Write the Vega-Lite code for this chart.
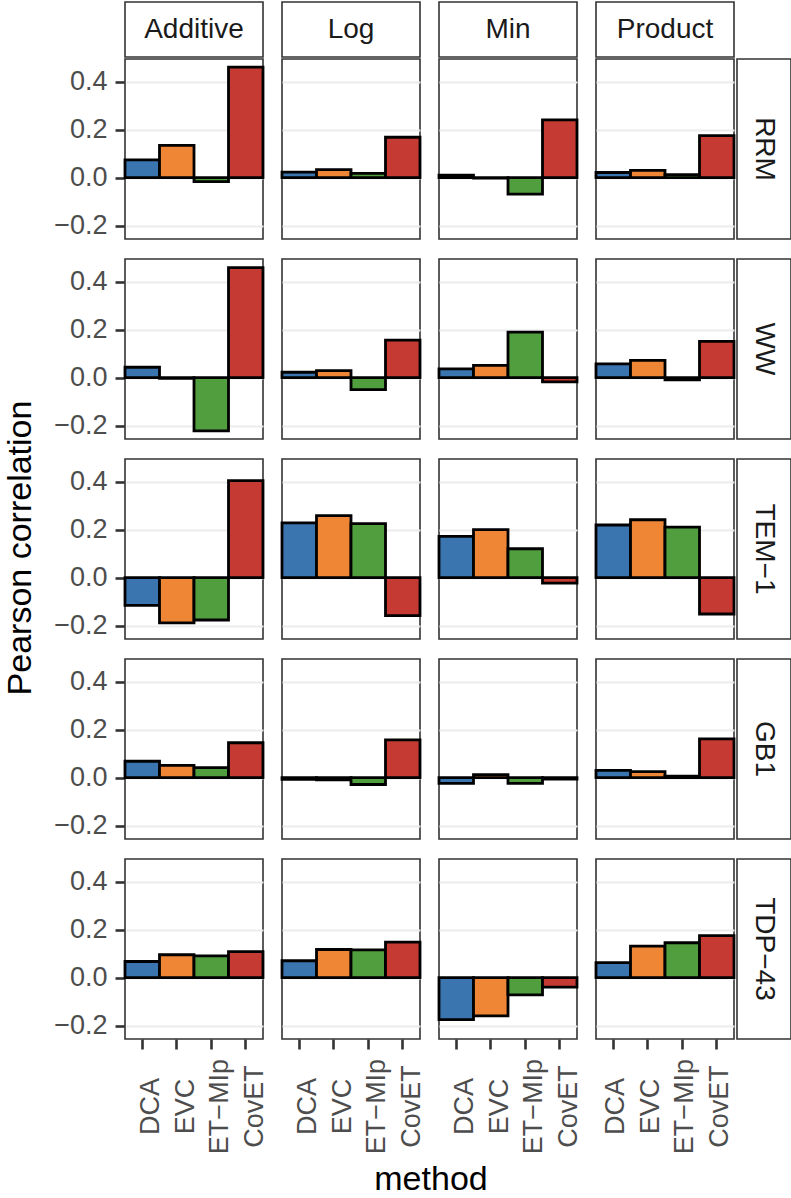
{
 "$schema": "https://vega.github.io/schema/vega-lite/v6.json",
 "background": "white",
 "padding": {"left": 4, "top": 1, "right": 0, "bottom": 0},
 "datasets": {"d": [
  {"protein":"RRM","scoring":"Additive","method":"DCA","value":0.074},
  {"protein":"RRM","scoring":"Additive","method":"EVC","value":0.134},
  {"protein":"RRM","scoring":"Additive","method":"ET−MIp","value":-0.017},
  {"protein":"RRM","scoring":"Additive","method":"CovET","value":0.46},
  {"protein":"RRM","scoring":"Log","method":"DCA","value":0.023},
  {"protein":"RRM","scoring":"Log","method":"EVC","value":0.033},
  {"protein":"RRM","scoring":"Log","method":"ET−MIp","value":0.017},
  {"protein":"RRM","scoring":"Log","method":"CovET","value":0.168},
  {"protein":"RRM","scoring":"Min","method":"DCA","value":0.01},
  {"protein":"RRM","scoring":"Min","method":"EVC","value":-0.002},
  {"protein":"RRM","scoring":"Min","method":"ET−MIp","value":-0.069},
  {"protein":"RRM","scoring":"Min","method":"CovET","value":0.24},
  {"protein":"RRM","scoring":"Product","method":"DCA","value":0.021},
  {"protein":"RRM","scoring":"Product","method":"EVC","value":0.03},
  {"protein":"RRM","scoring":"Product","method":"ET−MIp","value":0.012},
  {"protein":"RRM","scoring":"Product","method":"CovET","value":0.175},
  {"protein":"WW","scoring":"Additive","method":"DCA","value":0.043},
  {"protein":"WW","scoring":"Additive","method":"EVC","value":-0.003},
  {"protein":"WW","scoring":"Additive","method":"ET−MIp","value":-0.222},
  {"protein":"WW","scoring":"Additive","method":"CovET","value":0.458},
  {"protein":"WW","scoring":"Log","method":"DCA","value":0.022},
  {"protein":"WW","scoring":"Log","method":"EVC","value":0.029},
  {"protein":"WW","scoring":"Log","method":"ET−MIp","value":-0.05},
  {"protein":"WW","scoring":"Log","method":"CovET","value":0.156},
  {"protein":"WW","scoring":"Min","method":"DCA","value":0.036},
  {"protein":"WW","scoring":"Min","method":"EVC","value":0.051},
  {"protein":"WW","scoring":"Min","method":"ET−MIp","value":0.189},
  {"protein":"WW","scoring":"Min","method":"CovET","value":-0.018},
  {"protein":"WW","scoring":"Product","method":"DCA","value":0.057},
  {"protein":"WW","scoring":"Product","method":"EVC","value":0.072},
  {"protein":"WW","scoring":"Product","method":"ET−MIp","value":-0.01},
  {"protein":"WW","scoring":"Product","method":"CovET","value":0.151},
  {"protein":"TEM−1","scoring":"Additive","method":"DCA","value":-0.116},
  {"protein":"TEM−1","scoring":"Additive","method":"EVC","value":-0.189},
  {"protein":"TEM−1","scoring":"Additive","method":"ET−MIp","value":-0.177},
  {"protein":"TEM−1","scoring":"Additive","method":"CovET","value":0.404},
  {"protein":"TEM−1","scoring":"Log","method":"DCA","value":0.228},
  {"protein":"TEM−1","scoring":"Log","method":"EVC","value":0.258},
  {"protein":"TEM−1","scoring":"Log","method":"ET−MIp","value":0.225},
  {"protein":"TEM−1","scoring":"Log","method":"CovET","value":-0.159},
  {"protein":"TEM−1","scoring":"Min","method":"DCA","value":0.172},
  {"protein":"TEM−1","scoring":"Min","method":"EVC","value":0.2},
  {"protein":"TEM−1","scoring":"Min","method":"ET−MIp","value":0.12},
  {"protein":"TEM−1","scoring":"Min","method":"CovET","value":-0.023},
  {"protein":"TEM−1","scoring":"Product","method":"DCA","value":0.219},
  {"protein":"TEM−1","scoring":"Product","method":"EVC","value":0.241},
  {"protein":"TEM−1","scoring":"Product","method":"ET−MIp","value":0.21},
  {"protein":"TEM−1","scoring":"Product","method":"CovET","value":-0.152},
  {"protein":"GB1","scoring":"Additive","method":"DCA","value":0.068},
  {"protein":"GB1","scoring":"Additive","method":"EVC","value":0.051},
  {"protein":"GB1","scoring":"Additive","method":"ET−MIp","value":0.041},
  {"protein":"GB1","scoring":"Additive","method":"CovET","value":0.145},
  {"protein":"GB1","scoring":"Log","method":"DCA","value":-0.008},
  {"protein":"GB1","scoring":"Log","method":"EVC","value":-0.01},
  {"protein":"GB1","scoring":"Log","method":"ET−MIp","value":-0.029},
  {"protein":"GB1","scoring":"Log","method":"CovET","value":0.157},
  {"protein":"GB1","scoring":"Min","method":"DCA","value":-0.024},
  {"protein":"GB1","scoring":"Min","method":"EVC","value":0.012},
  {"protein":"GB1","scoring":"Min","method":"ET−MIp","value":-0.024},
  {"protein":"GB1","scoring":"Min","method":"CovET","value":-0.006},
  {"protein":"GB1","scoring":"Product","method":"DCA","value":0.03},
  {"protein":"GB1","scoring":"Product","method":"EVC","value":0.025},
  {"protein":"GB1","scoring":"Product","method":"ET−MIp","value":0.006},
  {"protein":"GB1","scoring":"Product","method":"CovET","value":0.161},
  {"protein":"TDP−43","scoring":"Additive","method":"DCA","value":0.067},
  {"protein":"TDP−43","scoring":"Additive","method":"EVC","value":0.095},
  {"protein":"TDP−43","scoring":"Additive","method":"ET−MIp","value":0.09},
  {"protein":"TDP−43","scoring":"Additive","method":"CovET","value":0.108},
  {"protein":"TDP−43","scoring":"Log","method":"DCA","value":0.07},
  {"protein":"TDP−43","scoring":"Log","method":"EVC","value":0.117},
  {"protein":"TDP−43","scoring":"Log","method":"ET−MIp","value":0.115},
  {"protein":"TDP−43","scoring":"Log","method":"CovET","value":0.148},
  {"protein":"TDP−43","scoring":"Min","method":"DCA","value":-0.175},
  {"protein":"TDP−43","scoring":"Min","method":"EVC","value":-0.16},
  {"protein":"TDP−43","scoring":"Min","method":"ET−MIp","value":-0.072},
  {"protein":"TDP−43","scoring":"Min","method":"CovET","value":-0.04},
  {"protein":"TDP−43","scoring":"Product","method":"DCA","value":0.062},
  {"protein":"TDP−43","scoring":"Product","method":"EVC","value":0.131},
  {"protein":"TDP−43","scoring":"Product","method":"ET−MIp","value":0.145},
  {"protein":"TDP−43","scoring":"Product","method":"CovET","value":0.175}
 ]},
 "config": {
  "font": "Liberation Sans",
  "view": {"stroke": "#333333", "strokeWidth": 1.6},
  "bar": {"stroke": "black", "strokeWidth": 2.8},
  "axis": {"domain": false, "tickColor": "#333333", "tickWidth": 2.6, "labelColor": "#4D4D4D", "labelFont": "Liberation Sans"},
  "axisX": {"grid": false, "labels": false, "tickOpacity": 0, "tickSize": 18, "minExtent": 0},
  "axisY": {"grid": true, "gridColor": "#EBEBEB", "gridWidth": 2.2, "labels": false, "tickOpacity": 0, "tickSize": 22, "minExtent": 22}
 },
 "spacing": 14,
 "hconcat": [
  {"width": 34, "height": 1092, "data": {"values": [{"t": "Pearson correlation"}]}, "mark": {"type": "text", "angle": 270, "fontSize": 34, "color": "black"}, "encoding": {"text": {"field": "t"}}, "view": {"stroke": null}},
  {"spacing": 5, "vconcat": [
   {"columns": 5, "align": "each", "spacing": {"row": 0, "column": -10}, "concat": [
    {"width":138,"height":55,"data":{"values":[{"t":"Additive"}]},"view":{"stroke":null},"layer":[{"mark":{"type":"rect","fill":"white","stroke":"#333333","strokeWidth":1.6}},{"mark":{"type":"text","fontSize":28,"color":"#1A1A1A"},"encoding":{"text":{"field":"t"}}}]},
    {"width":138,"height":55,"data":{"values":[{"t":"Log"}]},"view":{"stroke":null},"layer":[{"mark":{"type":"rect","fill":"white","stroke":"#333333","strokeWidth":1.6}},{"mark":{"type":"text","fontSize":28,"color":"#1A1A1A"},"encoding":{"text":{"field":"t"}}}]},
    {"width":138,"height":55,"data":{"values":[{"t":"Min"}]},"view":{"stroke":null},"layer":[{"mark":{"type":"rect","fill":"white","stroke":"#333333","strokeWidth":1.6}},{"mark":{"type":"text","fontSize":28,"color":"#1A1A1A"},"encoding":{"text":{"field":"t"}}}]},
    {"width":138,"height":55,"data":{"values":[{"t":"Product"}]},"view":{"stroke":null},"layer":[{"mark":{"type":"rect","fill":"white","stroke":"#333333","strokeWidth":1.6}},{"mark":{"type":"text","fontSize":28,"color":"#1A1A1A"},"encoding":{"text":{"field":"t"}}}]},
    {"width":54,"height":55,"data":{"values":[{"t":""}]},"mark":{"type":"text"},"encoding":{"text":{"field":"t"}},"view":{"stroke":null}},

    {"width":138,"height":180,"data":{"name":"d"},"transform":[{"filter":"datum.protein==='RRM'&&datum.scoring==='Additive'"}],"mark":"bar","encoding":{"x":{"field":"method","type":"nominal","scale":{"domain":["DCA","EVC","ET−MIp","CovET"],"paddingInner":0,"paddingOuter":0},"axis":{"title":null}},"y":{"field":"value","type":"quantitative","scale":{"domain":[-0.2561,0.4941],"nice":false},"axis":{"title":null,"values":[-0.2,0,0.2,0.4],"labels":true,"tickOpacity":1,"tickSize":10,"format":".1f","labelFontSize":27,"labelPadding":8}},"color":{"field":"method","type":"nominal","scale":{"domain":["DCA","EVC","ET−MIp","CovET"],"range":["#3B75AF","#EF8636","#519E3E","#C53A32"]},"legend":null}}},
    {"width":138,"height":180,"data":{"name":"d"},"transform":[{"filter":"datum.protein==='RRM'&&datum.scoring==='Log'"}],"mark":"bar","encoding":{"x":{"field":"method","type":"nominal","scale":{"domain":["DCA","EVC","ET−MIp","CovET"],"paddingInner":0,"paddingOuter":0},"axis":{"title":null}},"y":{"field":"value","type":"quantitative","scale":{"domain":[-0.2561,0.4941],"nice":false},"axis":{"title":null,"values":[-0.2,0,0.2,0.4]}},"color":{"field":"method","type":"nominal","scale":{"domain":["DCA","EVC","ET−MIp","CovET"],"range":["#3B75AF","#EF8636","#519E3E","#C53A32"]},"legend":null}}},
    {"width":138,"height":180,"data":{"name":"d"},"transform":[{"filter":"datum.protein==='RRM'&&datum.scoring==='Min'"}],"mark":"bar","encoding":{"x":{"field":"method","type":"nominal","scale":{"domain":["DCA","EVC","ET−MIp","CovET"],"paddingInner":0,"paddingOuter":0},"axis":{"title":null}},"y":{"field":"value","type":"quantitative","scale":{"domain":[-0.2561,0.4941],"nice":false},"axis":{"title":null,"values":[-0.2,0,0.2,0.4]}},"color":{"field":"method","type":"nominal","scale":{"domain":["DCA","EVC","ET−MIp","CovET"],"range":["#3B75AF","#EF8636","#519E3E","#C53A32"]},"legend":null}}},
    {"width":138,"height":180,"data":{"name":"d"},"transform":[{"filter":"datum.protein==='RRM'&&datum.scoring==='Product'"}],"mark":"bar","encoding":{"x":{"field":"method","type":"nominal","scale":{"domain":["DCA","EVC","ET−MIp","CovET"],"paddingInner":0,"paddingOuter":0},"axis":{"title":null}},"y":{"field":"value","type":"quantitative","scale":{"domain":[-0.2561,0.4941],"nice":false},"axis":{"title":null,"values":[-0.2,0,0.2,0.4]}},"color":{"field":"method","type":"nominal","scale":{"domain":["DCA","EVC","ET−MIp","CovET"],"range":["#3B75AF","#EF8636","#519E3E","#C53A32"]},"legend":null}}},
    {"width":54,"height":180,"data":{"values":[{"t":"RRM"}]},"view":{"stroke":null},"layer":[{"mark":{"type":"rect","fill":"white","stroke":"#333333","strokeWidth":1.6}},{"mark":{"type":"text","fontSize":28,"color":"#1A1A1A","angle":90},"encoding":{"text":{"field":"t"}}}]},

    {"width":138,"height":180,"data":{"name":"d"},"transform":[{"filter":"datum.protein==='WW'&&datum.scoring==='Additive'"}],"mark":"bar","encoding":{"x":{"field":"method","type":"nominal","scale":{"domain":["DCA","EVC","ET−MIp","CovET"],"paddingInner":0,"paddingOuter":0},"axis":{"title":null}},"y":{"field":"value","type":"quantitative","scale":{"domain":[-0.2561,0.4941],"nice":false},"axis":{"title":null,"values":[-0.2,0,0.2,0.4],"labels":true,"tickOpacity":1,"tickSize":10,"format":".1f","labelFontSize":27,"labelPadding":8}},"color":{"field":"method","type":"nominal","scale":{"domain":["DCA","EVC","ET−MIp","CovET"],"range":["#3B75AF","#EF8636","#519E3E","#C53A32"]},"legend":null}}},
    {"width":138,"height":180,"data":{"name":"d"},"transform":[{"filter":"datum.protein==='WW'&&datum.scoring==='Log'"}],"mark":"bar","encoding":{"x":{"field":"method","type":"nominal","scale":{"domain":["DCA","EVC","ET−MIp","CovET"],"paddingInner":0,"paddingOuter":0},"axis":{"title":null}},"y":{"field":"value","type":"quantitative","scale":{"domain":[-0.2561,0.4941],"nice":false},"axis":{"title":null,"values":[-0.2,0,0.2,0.4]}},"color":{"field":"method","type":"nominal","scale":{"domain":["DCA","EVC","ET−MIp","CovET"],"range":["#3B75AF","#EF8636","#519E3E","#C53A32"]},"legend":null}}},
    {"width":138,"height":180,"data":{"name":"d"},"transform":[{"filter":"datum.protein==='WW'&&datum.scoring==='Min'"}],"mark":"bar","encoding":{"x":{"field":"method","type":"nominal","scale":{"domain":["DCA","EVC","ET−MIp","CovET"],"paddingInner":0,"paddingOuter":0},"axis":{"title":null}},"y":{"field":"value","type":"quantitative","scale":{"domain":[-0.2561,0.4941],"nice":false},"axis":{"title":null,"values":[-0.2,0,0.2,0.4]}},"color":{"field":"method","type":"nominal","scale":{"domain":["DCA","EVC","ET−MIp","CovET"],"range":["#3B75AF","#EF8636","#519E3E","#C53A32"]},"legend":null}}},
    {"width":138,"height":180,"data":{"name":"d"},"transform":[{"filter":"datum.protein==='WW'&&datum.scoring==='Product'"}],"mark":"bar","encoding":{"x":{"field":"method","type":"nominal","scale":{"domain":["DCA","EVC","ET−MIp","CovET"],"paddingInner":0,"paddingOuter":0},"axis":{"title":null}},"y":{"field":"value","type":"quantitative","scale":{"domain":[-0.2561,0.4941],"nice":false},"axis":{"title":null,"values":[-0.2,0,0.2,0.4]}},"color":{"field":"method","type":"nominal","scale":{"domain":["DCA","EVC","ET−MIp","CovET"],"range":["#3B75AF","#EF8636","#519E3E","#C53A32"]},"legend":null}}},
    {"width":54,"height":180,"data":{"values":[{"t":"WW"}]},"view":{"stroke":null},"layer":[{"mark":{"type":"rect","fill":"white","stroke":"#333333","strokeWidth":1.6}},{"mark":{"type":"text","fontSize":28,"color":"#1A1A1A","angle":90},"encoding":{"text":{"field":"t"}}}]},

    {"width":138,"height":180,"data":{"name":"d"},"transform":[{"filter":"datum.protein==='TEM−1'&&datum.scoring==='Additive'"}],"mark":"bar","encoding":{"x":{"field":"method","type":"nominal","scale":{"domain":["DCA","EVC","ET−MIp","CovET"],"paddingInner":0,"paddingOuter":0},"axis":{"title":null}},"y":{"field":"value","type":"quantitative","scale":{"domain":[-0.2561,0.4941],"nice":false},"axis":{"title":null,"values":[-0.2,0,0.2,0.4],"labels":true,"tickOpacity":1,"tickSize":10,"format":".1f","labelFontSize":27,"labelPadding":8}},"color":{"field":"method","type":"nominal","scale":{"domain":["DCA","EVC","ET−MIp","CovET"],"range":["#3B75AF","#EF8636","#519E3E","#C53A32"]},"legend":null}}},
    {"width":138,"height":180,"data":{"name":"d"},"transform":[{"filter":"datum.protein==='TEM−1'&&datum.scoring==='Log'"}],"mark":"bar","encoding":{"x":{"field":"method","type":"nominal","scale":{"domain":["DCA","EVC","ET−MIp","CovET"],"paddingInner":0,"paddingOuter":0},"axis":{"title":null}},"y":{"field":"value","type":"quantitative","scale":{"domain":[-0.2561,0.4941],"nice":false},"axis":{"title":null,"values":[-0.2,0,0.2,0.4]}},"color":{"field":"method","type":"nominal","scale":{"domain":["DCA","EVC","ET−MIp","CovET"],"range":["#3B75AF","#EF8636","#519E3E","#C53A32"]},"legend":null}}},
    {"width":138,"height":180,"data":{"name":"d"},"transform":[{"filter":"datum.protein==='TEM−1'&&datum.scoring==='Min'"}],"mark":"bar","encoding":{"x":{"field":"method","type":"nominal","scale":{"domain":["DCA","EVC","ET−MIp","CovET"],"paddingInner":0,"paddingOuter":0},"axis":{"title":null}},"y":{"field":"value","type":"quantitative","scale":{"domain":[-0.2561,0.4941],"nice":false},"axis":{"title":null,"values":[-0.2,0,0.2,0.4]}},"color":{"field":"method","type":"nominal","scale":{"domain":["DCA","EVC","ET−MIp","CovET"],"range":["#3B75AF","#EF8636","#519E3E","#C53A32"]},"legend":null}}},
    {"width":138,"height":180,"data":{"name":"d"},"transform":[{"filter":"datum.protein==='TEM−1'&&datum.scoring==='Product'"}],"mark":"bar","encoding":{"x":{"field":"method","type":"nominal","scale":{"domain":["DCA","EVC","ET−MIp","CovET"],"paddingInner":0,"paddingOuter":0},"axis":{"title":null}},"y":{"field":"value","type":"quantitative","scale":{"domain":[-0.2561,0.4941],"nice":false},"axis":{"title":null,"values":[-0.2,0,0.2,0.4]}},"color":{"field":"method","type":"nominal","scale":{"domain":["DCA","EVC","ET−MIp","CovET"],"range":["#3B75AF","#EF8636","#519E3E","#C53A32"]},"legend":null}}},
    {"width":54,"height":180,"data":{"values":[{"t":"TEM−1"}]},"view":{"stroke":null},"layer":[{"mark":{"type":"rect","fill":"white","stroke":"#333333","strokeWidth":1.6}},{"mark":{"type":"text","fontSize":28,"color":"#1A1A1A","angle":90},"encoding":{"text":{"field":"t"}}}]},

    {"width":138,"height":180,"data":{"name":"d"},"transform":[{"filter":"datum.protein==='GB1'&&datum.scoring==='Additive'"}],"mark":"bar","encoding":{"x":{"field":"method","type":"nominal","scale":{"domain":["DCA","EVC","ET−MIp","CovET"],"paddingInner":0,"paddingOuter":0},"axis":{"title":null}},"y":{"field":"value","type":"quantitative","scale":{"domain":[-0.2561,0.4941],"nice":false},"axis":{"title":null,"values":[-0.2,0,0.2,0.4],"labels":true,"tickOpacity":1,"tickSize":10,"format":".1f","labelFontSize":27,"labelPadding":8}},"color":{"field":"method","type":"nominal","scale":{"domain":["DCA","EVC","ET−MIp","CovET"],"range":["#3B75AF","#EF8636","#519E3E","#C53A32"]},"legend":null}}},
    {"width":138,"height":180,"data":{"name":"d"},"transform":[{"filter":"datum.protein==='GB1'&&datum.scoring==='Log'"}],"mark":"bar","encoding":{"x":{"field":"method","type":"nominal","scale":{"domain":["DCA","EVC","ET−MIp","CovET"],"paddingInner":0,"paddingOuter":0},"axis":{"title":null}},"y":{"field":"value","type":"quantitative","scale":{"domain":[-0.2561,0.4941],"nice":false},"axis":{"title":null,"values":[-0.2,0,0.2,0.4]}},"color":{"field":"method","type":"nominal","scale":{"domain":["DCA","EVC","ET−MIp","CovET"],"range":["#3B75AF","#EF8636","#519E3E","#C53A32"]},"legend":null}}},
    {"width":138,"height":180,"data":{"name":"d"},"transform":[{"filter":"datum.protein==='GB1'&&datum.scoring==='Min'"}],"mark":"bar","encoding":{"x":{"field":"method","type":"nominal","scale":{"domain":["DCA","EVC","ET−MIp","CovET"],"paddingInner":0,"paddingOuter":0},"axis":{"title":null}},"y":{"field":"value","type":"quantitative","scale":{"domain":[-0.2561,0.4941],"nice":false},"axis":{"title":null,"values":[-0.2,0,0.2,0.4]}},"color":{"field":"method","type":"nominal","scale":{"domain":["DCA","EVC","ET−MIp","CovET"],"range":["#3B75AF","#EF8636","#519E3E","#C53A32"]},"legend":null}}},
    {"width":138,"height":180,"data":{"name":"d"},"transform":[{"filter":"datum.protein==='GB1'&&datum.scoring==='Product'"}],"mark":"bar","encoding":{"x":{"field":"method","type":"nominal","scale":{"domain":["DCA","EVC","ET−MIp","CovET"],"paddingInner":0,"paddingOuter":0},"axis":{"title":null}},"y":{"field":"value","type":"quantitative","scale":{"domain":[-0.2561,0.4941],"nice":false},"axis":{"title":null,"values":[-0.2,0,0.2,0.4]}},"color":{"field":"method","type":"nominal","scale":{"domain":["DCA","EVC","ET−MIp","CovET"],"range":["#3B75AF","#EF8636","#519E3E","#C53A32"]},"legend":null}}},
    {"width":54,"height":180,"data":{"values":[{"t":"GB1"}]},"view":{"stroke":null},"layer":[{"mark":{"type":"rect","fill":"white","stroke":"#333333","strokeWidth":1.6}},{"mark":{"type":"text","fontSize":28,"color":"#1A1A1A","angle":90},"encoding":{"text":{"field":"t"}}}]},

    {"width":138,"height":180,"data":{"name":"d"},"transform":[{"filter":"datum.protein==='TDP−43'&&datum.scoring==='Additive'"}],"mark":"bar","encoding":{"x":{"field":"method","type":"nominal","scale":{"domain":["DCA","EVC","ET−MIp","CovET"],"paddingInner":0,"paddingOuter":0},"axis":{"title":null,"labels":true,"tickOpacity":1,"tickSize":10,"labelAngle":270,"labelAlign":"center","labelBaseline":"top","labelFontSize":27,"labelPadding":57,"labelOffset":-4,"labelOverlap":false,"labelLimit":0}},"y":{"field":"value","type":"quantitative","scale":{"domain":[-0.2561,0.4941],"nice":false},"axis":{"title":null,"values":[-0.2,0,0.2,0.4],"labels":true,"tickOpacity":1,"tickSize":10,"format":".1f","labelFontSize":27,"labelPadding":8}},"color":{"field":"method","type":"nominal","scale":{"domain":["DCA","EVC","ET−MIp","CovET"],"range":["#3B75AF","#EF8636","#519E3E","#C53A32"]},"legend":null}}},
    {"width":138,"height":180,"data":{"name":"d"},"transform":[{"filter":"datum.protein==='TDP−43'&&datum.scoring==='Log'"}],"mark":"bar","encoding":{"x":{"field":"method","type":"nominal","scale":{"domain":["DCA","EVC","ET−MIp","CovET"],"paddingInner":0,"paddingOuter":0},"axis":{"title":null,"labels":true,"tickOpacity":1,"tickSize":10,"labelAngle":270,"labelAlign":"center","labelBaseline":"top","labelFontSize":27,"labelPadding":57,"labelOffset":-4,"labelOverlap":false,"labelLimit":0}},"y":{"field":"value","type":"quantitative","scale":{"domain":[-0.2561,0.4941],"nice":false},"axis":{"title":null,"values":[-0.2,0,0.2,0.4]}},"color":{"field":"method","type":"nominal","scale":{"domain":["DCA","EVC","ET−MIp","CovET"],"range":["#3B75AF","#EF8636","#519E3E","#C53A32"]},"legend":null}}},
    {"width":138,"height":180,"data":{"name":"d"},"transform":[{"filter":"datum.protein==='TDP−43'&&datum.scoring==='Min'"}],"mark":"bar","encoding":{"x":{"field":"method","type":"nominal","scale":{"domain":["DCA","EVC","ET−MIp","CovET"],"paddingInner":0,"paddingOuter":0},"axis":{"title":null,"labels":true,"tickOpacity":1,"tickSize":10,"labelAngle":270,"labelAlign":"center","labelBaseline":"top","labelFontSize":27,"labelPadding":57,"labelOffset":-4,"labelOverlap":false,"labelLimit":0}},"y":{"field":"value","type":"quantitative","scale":{"domain":[-0.2561,0.4941],"nice":false},"axis":{"title":null,"values":[-0.2,0,0.2,0.4]}},"color":{"field":"method","type":"nominal","scale":{"domain":["DCA","EVC","ET−MIp","CovET"],"range":["#3B75AF","#EF8636","#519E3E","#C53A32"]},"legend":null}}},
    {"width":138,"height":180,"data":{"name":"d"},"transform":[{"filter":"datum.protein==='TDP−43'&&datum.scoring==='Product'"}],"mark":"bar","encoding":{"x":{"field":"method","type":"nominal","scale":{"domain":["DCA","EVC","ET−MIp","CovET"],"paddingInner":0,"paddingOuter":0},"axis":{"title":null,"labels":true,"tickOpacity":1,"tickSize":10,"labelAngle":270,"labelAlign":"center","labelBaseline":"top","labelFontSize":27,"labelPadding":57,"labelOffset":-10,"labelOverlap":false,"labelLimit":0}},"y":{"field":"value","type":"quantitative","scale":{"domain":[-0.2561,0.4941],"nice":false},"axis":{"title":null,"values":[-0.2,0,0.2,0.4]}},"color":{"field":"method","type":"nominal","scale":{"domain":["DCA","EVC","ET−MIp","CovET"],"range":["#3B75AF","#EF8636","#519E3E","#C53A32"]},"legend":null}}},
    {"width":54,"height":180,"data":{"values":[{"t":"TDP−43"}]},"view":{"stroke":null},"layer":[{"mark":{"type":"rect","fill":"white","stroke":"#333333","strokeWidth":1.6}},{"mark":{"type":"text","fontSize":28,"color":"#1A1A1A","angle":90},"encoding":{"text":{"field":"t"}}}]}
   ]},
   {"width": 612, "height": 40, "data": {"values": [{"t": "method"}]}, "mark": {"type": "text", "fontSize": 34, "color": "black"}, "encoding": {"text": {"field": "t"}}, "view": {"stroke": null}}
  ]}
 ]
}
